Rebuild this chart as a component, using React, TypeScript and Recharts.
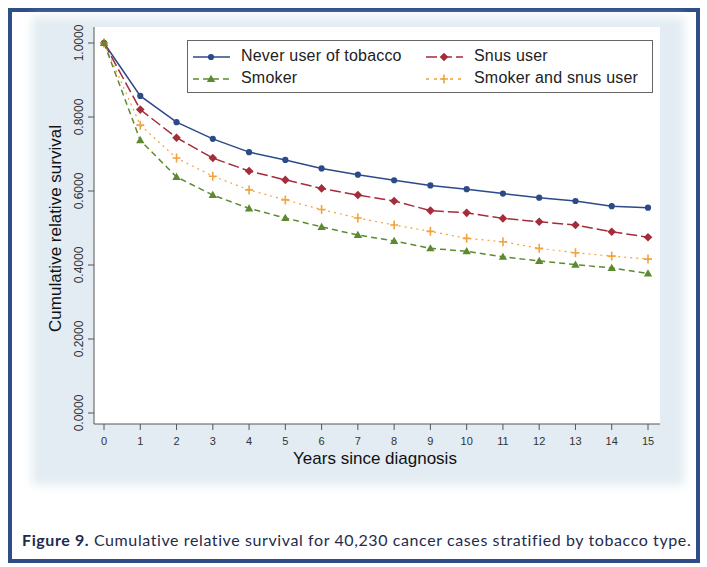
import React from 'react';
import { LineChart, Line, XAxis, YAxis, CartesianGrid } from 'recharts';

const years = [0, 1, 2, 3, 4, 5, 6, 7, 8, 9, 10, 11, 12, 13, 14, 15];
const neverUser = [1.0, 0.857, 0.786, 0.741, 0.705, 0.684, 0.661, 0.644, 0.629, 0.615, 0.605, 0.593, 0.582, 0.573, 0.559, 0.555];
const snusUser = [1.0, 0.82, 0.744, 0.689, 0.654, 0.63, 0.607, 0.589, 0.573, 0.547, 0.541, 0.526, 0.517, 0.508, 0.49, 0.475];
const smoker = [1.0, 0.737, 0.638, 0.589, 0.553, 0.527, 0.503, 0.481, 0.465, 0.445, 0.437, 0.422, 0.411, 0.401, 0.392, 0.377];
const smokerSnus = [1.0, 0.778, 0.689, 0.64, 0.603, 0.576, 0.55, 0.527, 0.508, 0.491, 0.472, 0.463, 0.445, 0.433, 0.424, 0.416];
const yTicks = [0, 0.2, 0.4, 0.6, 0.8, 1.0];

const seriesNames = ['Never user of tobacco', 'Snus user', 'Smoker', 'Smoker and snus user'];
const xTitle = 'Years since diagnosis';
const yTitle = 'Cumulative relative survival';
const captionBold = 'Figure 9.';
const captionText = ' Cumulative relative survival for 40,230 cancer cases stratified by tobacco type.';

const data = years.map((y, i) => ({
  year: y,
  never: neverUser[i],
  snus: snusUser[i],
  smoker: smoker[i],
  both: smokerSnus[i],
}));

const BLUE = '#2c4a88';
const RED = '#a52c3a';
const GREEN = '#5c8a30';
const ORANGE = '#f3a23c';
const AXIS = '#555';
const FONT = '"Liberation Sans", Arial, sans-serif';

const CircleDot = (p: any) =>
  p.cx == null ? null : <circle key={`c${p.index}`} cx={p.cx} cy={p.cy} r={3.1} fill={BLUE} />;
const DiamondDot = (p: any) =>
  p.cx == null ? null : (
    <path key={`d${p.index}`} d={`M${p.cx},${p.cy - 4.3}L${p.cx + 4.3},${p.cy}L${p.cx},${p.cy + 4.3}L${p.cx - 4.3},${p.cy}Z`} fill={RED} />
  );
const TriangleDot = (p: any) =>
  p.cx == null ? null : (
    <path key={`t${p.index}`} d={`M${p.cx},${p.cy - 4.2}L${p.cx + 4.2},${p.cy + 3}L${p.cx - 4.2},${p.cy + 3}Z`} fill={GREEN} />
  );
const PlusDot = (p: any) =>
  p.cx == null ? null : (
    <path key={`p${p.index}`} d={`M${p.cx - 4},${p.cy}H${p.cx + 4}M${p.cx},${p.cy - 4.5}V${p.cy + 4.5}`} stroke={ORANGE} strokeWidth={1.6} fill="none" />
  );

const YTick = (p: any) => (
  <text
    transform={`translate(${p.x - 3}, ${p.y}) rotate(-90)`}
    textAnchor="middle"
    fontSize={12}
    fill="#333"
    fontFamily={FONT}
  >
    {Number(p.payload.value).toFixed(4)}
  </text>
);

const YLabel = (p: any) => {
  const vb = p.viewBox || { x: 0, y: 27, width: 94, height: 397 };
  const cy = vb.y + vb.height / 2 + 3;
  return (
    <text
      transform={`translate(61, ${cy}) rotate(-90)`}
      textAnchor="middle"
      fontSize={17}
      fill="#111"
      fontFamily={FONT}
    >
      {yTitle}
    </text>
  );
};

const XLabel = (p: any) => {
  const vb = p.viewBox || { x: 94, y: 424, width: 566, height: 40 };
  return (
    <text x={vb.x + vb.width / 2 - 2} y={464} textAnchor="middle" fontSize={17} fill="#111" fontFamily={FONT}>
      {xTitle}
    </text>
  );
};

const legendItems = [
  { name: seriesNames[0], color: BLUE, dash: undefined as string | undefined, dot: 'circle', left: 5, top: 8 },
  { name: seriesNames[1], color: RED, dash: '11 4', dot: 'diamond', left: 238, top: 8 },
  { name: seriesNames[2], color: GREEN, dash: '6 4', dot: 'triangle', left: 5, top: 30 },
  { name: seriesNames[3], color: ORANGE, dash: '3 5', dot: 'plus', left: 238, top: 30 },
];

const LegendSample = ({ item }: any) => {
  const cx = 18;
  const cy = 7;
  let marker: any = null;
  if (item.dot === 'circle') marker = <circle cx={cx} cy={cy} r={3.1} fill={item.color} />;
  if (item.dot === 'diamond') marker = <path d={`M${cx},${cy - 4.3}L${cx + 4.3},${cy}L${cx},${cy + 4.3}L${cx - 4.3},${cy}Z`} fill={item.color} />;
  if (item.dot === 'triangle') marker = <path d={`M${cx},${cy - 4.2}L${cx + 4.2},${cy + 3}L${cx - 4.2},${cy + 3}Z`} fill={item.color} />;
  if (item.dot === 'plus') marker = <path d={`M${cx - 4},${cy}H${cx + 4}M${cx},${cy - 4.5}V${cy + 4.5}`} stroke={item.color} strokeWidth={1.6} />;
  return (
    <svg width={38} height={14} style={{ position: 'absolute', left: 0, top: 1 }}>
      <line x1={0} y1={cy} x2={37} y2={cy} stroke={item.color} strokeWidth={1.5} strokeDasharray={item.dash} />
      {marker}
    </svg>
  );
};

export default function App() {
  return (
    <div style={{ position: 'absolute', left: 0, top: 0, width: 707, height: 567, background: '#fff', overflow: 'hidden' }}>
      <div
        style={{
          position: 'absolute',
          left: 8,
          top: 8,
          width: 684,
          height: 547,
          border: '4px solid #2f4e88',
        }}
      />
      <div
        style={{
          position: 'absolute',
          left: 32,
          top: 17,
          width: 652,
          height: 468,
          background: '#e2ecf2',
          filter: 'blur(5px)',
        }}
      />
      <div style={{ position: 'absolute', left: 0, top: 0 }}>
        <LineChart width={707} height={567} data={data} margin={{ top: 27, right: 47, bottom: 103, left: 0 }}>
          <CartesianGrid horizontal={false} vertical={false} fill="#ffffff" stroke="none" />
          <XAxis
            dataKey="year"
            type="number"
            domain={[0, 15]}
            ticks={years}
            interval={0}
            padding={{ left: 10, right: 12 }}
            height={40}
            tickSize={6}
            tickMargin={7}
            axisLine={{ stroke: AXIS }}
            tickLine={{ stroke: AXIS }}
            tick={{ fontSize: 11, fill: '#333', fontFamily: FONT }}
            label={<XLabel />}
          />
          <YAxis
            type="number"
            domain={[0, 1]}
            ticks={yTicks}
            interval={0}
            width={94}
            padding={{ top: 16, bottom: 11 }}
            tickSize={6}
            axisLine={{ stroke: AXIS }}
            tickLine={{ stroke: AXIS }}
            tick={<YTick />}
            label={<YLabel />}
          />
          <Line type="linear" dataKey="never" name={seriesNames[0]} stroke={BLUE} strokeWidth={1.5} dot={CircleDot} activeDot={false} isAnimationActive={false} />
          <Line type="linear" dataKey="snus" name={seriesNames[1]} stroke={RED} strokeWidth={1.5} strokeDasharray="11 4" dot={DiamondDot} activeDot={false} isAnimationActive={false} />
          <Line type="linear" dataKey="both" name={seriesNames[3]} stroke={ORANGE} strokeWidth={1.2} strokeDasharray="2 4" dot={PlusDot} activeDot={false} isAnimationActive={false} />
          <Line type="linear" dataKey="smoker" name={seriesNames[2]} stroke={GREEN} strokeWidth={1.5} strokeDasharray="6 4" dot={TriangleDot} activeDot={false} isAnimationActive={false} />
        </LineChart>
      </div>
      <div
        style={{
          position: 'absolute',
          left: 187,
          top: 40,
          width: 464,
          height: 51,
          border: '1px solid #666',
          background: '#fff',
          fontFamily: FONT,
          fontSize: 16,
          color: '#222',
        }}
      >
        {legendItems.map((it) => (
          <div key={it.name} style={{ position: 'absolute', left: it.left, top: it.top, height: 16, whiteSpace: 'nowrap' }}>
            <LegendSample item={it} />
            <span style={{ position: 'absolute', left: 48, top: -2, lineHeight: '18px', letterSpacing: '0.2px' }}>{it.name}</span>
          </div>
        ))}
      </div>
      <div
        style={{
          position: 'absolute',
          left: 22,
          top: 530,
          fontFamily: 'Lato, "Open Sans", sans-serif',
          fontSize: 16,
          letterSpacing: '0.6px',
          color: '#1f2b4d',
          whiteSpace: 'nowrap',
        }}
      >
        <b>{captionBold}</b>
        {captionText}
      </div>
    </div>
  );
}
